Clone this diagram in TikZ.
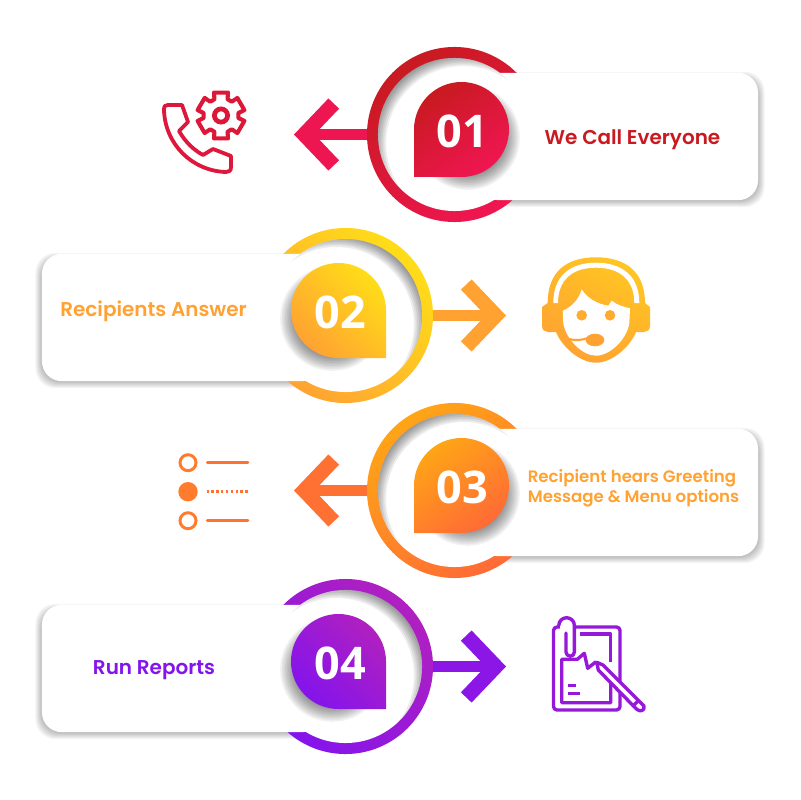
\documentclass[tikz,border=0pt]{standalone}
\usepackage{fontspec}
\usetikzlibrary{arrows.meta}
\newfontfamily\labelfont{Poppins}[UprightFont=* SemiBold]
\newfontfamily\numfont{Open Sans}
\definecolor{reddark}{HTML}{C81A20}
\definecolor{redpink}{HTML}{F01652}
\definecolor{yelltop}{HTML}{FFDD18}
\definecolor{yellow2}{HTML}{FFA232}
\definecolor{orantop}{HTML}{FFA516}
\definecolor{orange2}{HTML}{FF6A36}
\definecolor{purptop}{HTML}{B020C0}
\definecolor{purple2}{HTML}{8414EC}
\tikzset{
	card/.style={rectangle, fill=white, rounded corners=14pt, minimum width=7cm, minimum height=3.18cm, inner sep=0},
	cardshade/.style={rectangle, fill=black, opacity=.04, rounded corners=14pt, inner sep=0},
	ring/.style={circle, minimum size=4.375cm, inner sep=0},
	hole/.style={circle, fill=white, minimum size=3.825cm, inner sep=0},
	number/.style={text=white, font=\numfont\bfseries\fontsize{32}{33}\selectfont, inner sep=0},
	label/.style={font=\labelfont\fontsize{14.2}{14.2}\selectfont, align=left, inner sep=0},
	shadea/.style={top color=reddark, bottom color=redpink, shading angle=35},
	shadeb/.style={top color=yelltop, bottom color=yellow2, shading angle=-45},
	shadec/.style={top color=orantop, bottom color=orange2, shading angle=35},
	shaded/.style={top color=purptop, bottom color=purple2, shading angle=-45},
	barb/.style={line width=8.2pt, -{Straight Barb[length=21pt, width=44pt, line width=10.5pt]}},
	icon/.style={line width=2.4pt, line join=round}
}
\begin{document}
\begin{tikzpicture}[x=0.025cm, y=-0.025cm]
	\fill[white] (0,0) rectangle (800,800);
	\useasboundingbox (0,0) rectangle (800,800);
	% the four rows
	\foreach \r/\n/\cx/\cy/\s/\tipc in {a/01/454.5/134.5/1/redpink!96!reddark, b/02/345.5/315.5/-1/yellow2, c/03/454.5/490.5/1/orange2!90!orantop, d/04/345.5/666.5/-1/purple2!85!purptop}{
		\foreach \g in {-3,-2,...,4}
			\node[cardshade, minimum width=7cm+\g*0.05cm, minimum height=3.18cm+\g*0.05cm] at (\cx+\s*166,\cy+5) {};
		\node[ring, shade\r] (ring\r) at (\cx,\cy) {};
		\node[card] (card\r) at (\cx+\s*163.5,\cy+2) {};
		\node[hole] (hole\r) at (\cx,\cy) {};
		\begin{scope}
			\clip (\cx,\cy) circle (76.5);
			\foreach \g in {0,...,7}
				\fill[black, opacity=.07, even odd rule] (\cx-90,\cy-90) rectangle (\cx+90,\cy+90) (\cx+\s*9,\cy+9) circle (90-\g*1.8);
		\end{scope}
		\foreach \g in {0,...,9}
			\fill[black, opacity=.05] (\cx+\s*13,\cy+3) circle (38+\g*1.6);
		\pgfmathsetmacro{\arcs}{90+90*\s}
		\pgfmathsetmacro{\arce}{90+360*\s}
		\path[shade\r] (\cx-\s*40.5,\cy+42.5) -- (\cx-\s*40.5,\cy-5) arc (\arcs:\arce:47.5) -- cycle;
		\node[number] (num\r) at (\cx+\s*6.5+1.5,\cy-3) {\n};
		\coordinate (tip\r) at (\cx-\s*160.5,\cy);
		\draw[barb, draw=\tipc] (ring\r) -- (tip\r);
	}
	% labels
	\node[label, text=reddark] (texta) at (632.5,139.5) {We Call Everyone};
	\node[label, text=yellow2] (textb) at (153.5,311.5) {Recipients Answer};
	\node[label, text=yellow2, font=\labelfont\fontsize{11.8}{14.2}\selectfont] (textc) at (633.5,488.5) {Recipient hears Greeting\\Message \& Menu options};
	\node[label, text=purple2] (textd) at (154,670.5) {Run Reports};
	% phone and gear
	\draw[icon, line width=2.7pt, draw=redpink!55!reddark] (164,110) .. controls (164,106) and (165,105) .. (168,105) -- (182,105) -- (188,122) -- (179,131) .. controls (186,143) and (194,150) .. (203,155) -- (213,149) -- (231,156) -- (231,167) .. controls (231,171) and (229,172) .. (226,172) .. controls (192,171) and (165,144) .. (164,110) -- cycle;
	\begin{scope}[shift={(221,115.5)}]
		\draw[icon, line width=2.9pt, draw=redpink!50!reddark] (68:17.5) \foreach \t in {0,60,...,300}{ -- (\t+68:17.5) -- (\t+73:24) -- (\t+107:24) -- (\t+112:17.5)} -- cycle;
		\draw[draw=redpink!50!reddark, line width=3.4pt] (0,0) circle (6.6);
	\end{scope}
	% headset
	\path[top color=yelltop!60!yellow2, bottom color=yellow2, shading angle=-30] (547.7,303) .. controls (547.7,272) and (566,257.3) .. (596,257.3) .. controls (626,257.3) and (645,272) .. (645,303) -- (650,307) -- (650,326) .. controls (650,330) and (647,332) .. (644,332) -- (636,332) .. controls (630,347) and (612,362.7) .. (596,362.7) .. controls (580,362.7) and (562,347) .. (556,332) -- (548,332) .. controls (545,332) and (542,330) .. (542,326) -- (542,307) -- cycle;
	\fill[white] (553.3,303) .. controls (553.3,276) and (570,262.7) .. (596,262.7) .. controls (622,262.7) and (639.3,276) .. (639.3,303) -- (634.3,303) .. controls (634.3,280) and (620,267.7) .. (596,267.7) .. controls (572,267.7) and (558,280) .. (558,303) -- cycle;
	\fill[white] (562.7,310.7) .. controls (572,307) and (579,299) .. (581.7,289.3) .. controls (587,298) and (597,304) .. (608.3,305.7) -- (611.7,300.7) .. controls (617,305) and (624,307) .. (630,308.3) -- (629.3,323.3) .. controls (627,339) and (610,355.7) .. (596,355.7) .. controls (582,355.7) and (566,339) .. (563.3,323.3) -- cycle;
	\fill[yellow2!85!yelltop] (581.7,315.3) circle (5.3) (610,315.3) circle (5.3);
	\fill[yellow2] (595,340) ellipse (9.3 and 6.3);
	\draw[yellow2, line width=1.5pt] (569.3,339) .. controls (575,341) and (582,340) .. (588,338);
	% list
	\draw[orange2!70!orantop, line width=2.1pt] (188,462.7) circle (8) (188,520.7) circle (8);
	\fill[orange2!70!orantop] (188,491.7) circle (9.7);
	\draw[orange2!85!orantop, line width=2.1pt, line cap=round] (207.3,462.3) -- (248,462.3) (207.3,520.7) -- (248,520.7);
	\draw[orange2!85!orantop, line width=1.9pt, dash pattern=on 1.7pt off 1.75pt] (206.5,491.7) -- (248.5,491.7);
	% clipboard
	\draw[icon, draw=purple2!60!purptop, rounded corners=2.5pt] (553.5,627) rectangle (620,710);
	\fill[white] (560,624) rectangle (573,630);
	\draw[icon, draw=purple2!60!purptop, line cap=round] (566,633) -- (566,652) arc (180:0:4.2) -- (574.4,625.5) arc (0:-180:7.8);
	\draw[icon, draw=purple2!60!purptop] (580,634) -- (610.7,634) -- (610.7,662);
	\draw[icon, draw=purple2!60!purptop] (596,661.7) -- (587.7,668.3) -- (584.3,653.3) -- (577.3,659.3) -- (561.7,659.3) -- (561.7,702.7) -- (610.7,702.7) -- (610.7,678.3);
	\draw[icon, draw=purple2!60!purptop] (568.3,685.7) -- (576,685.7) (568.3,693.7) -- (580,693.7);
	\draw[white, line width=5pt] (601,668) -- (640,707);
	\draw[icon, draw=purple2!60!purptop, fill=white] (596.7,662.3) -- (603,665) -- (644,706) .. controls (645,711) and (640,712) .. (636.7,709.3) -- (598.3,670) -- cycle;
	\draw[icon, draw=purple2!60!purptop] (638.3,700.7) -- (632.3,706.7);
\end{tikzpicture}
\end{document}
